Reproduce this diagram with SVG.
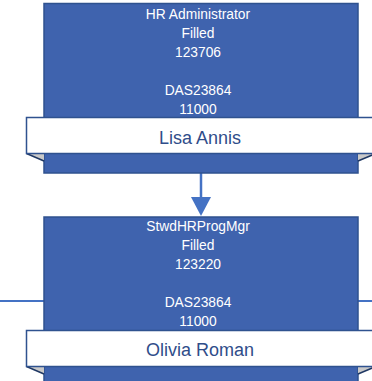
<svg xmlns="http://www.w3.org/2000/svg" width="372" height="381" viewBox="0 0 372 381">
<style>
.box{fill:#3F63AE;stroke:#2F528F;stroke-width:1.5}
.banner{fill:#FFFFFF;stroke:#2F528F;stroke-width:1.5}
.fold{fill:#C9C9C9;stroke:none}
.foldline{stroke:#1F3864;stroke-width:1.5;fill:none}
.t{font-family:"Liberation Sans",Arial,sans-serif;font-size:13.8px;fill:#FFFFFF;text-anchor:middle}
.n{font-family:"Liberation Sans",Arial,sans-serif;font-size:18px;fill:#2F4D8A;text-anchor:middle}
.conn{stroke:#4472C4;stroke-width:2.5;fill:none}
</style>
<g id="connectors">
<line class="conn" x1="201" y1="173" x2="201" y2="198"/>
<polygon points="191,197 211,197 201,216" fill="#4472C4"/>
<line class="conn" x1="0" y1="301" x2="44" y2="301" style="stroke-width:2"/>
<line class="conn" x1="358" y1="301" x2="372" y2="301" style="stroke-width:2"/>
</g>
<g id="node-hr-administrator">
<rect class="box" x="44" y="3.5" width="314" height="169.5"/>
<text class="t" x="198" y="18.5">HR Administrator</text>
<text class="t" x="198" y="37.5">Filled</text>
<text class="t" x="198" y="56.5">123706</text>
<text class="t" x="198" y="94.5">DAS23864</text>
<text class="t" x="198" y="113.5">11000</text>
<polygon class="fold" points="26.5,153.5 44,153.5 44,161"/>
<line class="foldline" x1="26.5" y1="153.5" x2="44" y2="161"/>
<polygon class="fold" points="358,153.5 376,153.5 358,161"/>
<line class="foldline" x1="376" y1="153.5" x2="358" y2="161"/>
<rect class="banner" x="26.5" y="117.5" width="360" height="36"/>
<text class="n" x="200" y="144">Lisa Annis</text>
</g>
<g id="node-stwdhrprogmgr">
<rect class="box" x="44" y="217" width="314" height="180"/>
<text class="t" x="198" y="230.5">StwdHRProgMgr</text>
<text class="t" x="198" y="249.5">Filled</text>
<text class="t" x="198" y="268.5">123220</text>
<text class="t" x="198" y="306.5">DAS23864</text>
<text class="t" x="198" y="325.5">11000</text>
<polygon class="fold" points="26.5,366.5 44,366.5 44,374"/>
<line class="foldline" x1="26.5" y1="366.5" x2="44" y2="374"/>
<polygon class="fold" points="358,366.5 376,366.5 358,374"/>
<line class="foldline" x1="376" y1="366.5" x2="358" y2="374"/>
<rect class="banner" x="26.5" y="330.5" width="360" height="36"/>
<text class="n" x="200" y="356">Olivia Roman</text>
</g>
</svg>
